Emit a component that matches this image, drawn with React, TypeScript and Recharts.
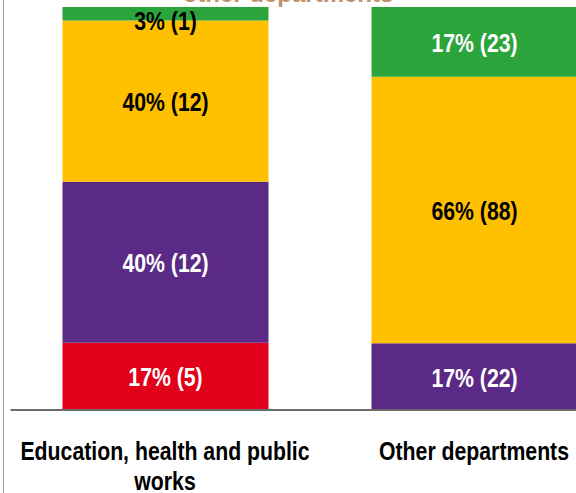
import { BarChart, Bar, XAxis, YAxis, LabelList } from "recharts";

const categories = ["Education, health and public works", "Other departments"];
const redCounts = [5, 0];
const purpleCounts = [12, 22];
const yellowCounts = [12, 88];
const greenCounts = [1, 23];
const titleTail = "other departments";

const series = [
    { key: "red", counts: redCounts, fill: "#e2001a", text: "#ffffff" },
    { key: "purple", counts: purpleCounts, fill: "#5b2a86", text: "#ffffff" },
    { key: "yellow", counts: yellowCounts, fill: "#ffc000", text: "#000000" },
    { key: "green", counts: greenCounts, fill: "#2ba43b", text: "#ffffff" },
];

const data = categories.map((name, i) => {
    const row: any = { name };
    series.forEach(s => { row[s.key] = s.counts[i]; });
    return row;
});

const totals = categories.map((_, i) => series.reduce((sum, s) => sum + s.counts[i], 0));

const FONT = "'Liberation Sans', Arial, sans-serif";
const SQUEEZE = 0.85;

// greedy word wrap by character count
const wrap = (str: string, maxChars: number) => {
    const lines: string[] = [];
    let cur = "";
    str.split(" ").forEach(w => {
        const next = cur ? cur + " " + w : w;
        if (next.length > maxChars && cur) {
            lines.push(cur);
            cur = w;
        } else {
            cur = next;
        }
    });
    if (cur) lines.push(cur);
    return lines;
};

const makeLabel = (s: typeof series[number]) => (props: any) => {
    const { x, y, width, height, index } = props;
    const count = s.counts[index];
    if (!count) return null;
    const pct = Math.round((count / totals[index]) * 100);
    const cx = Number(x) + Number(width) / 2;
    const cy = Number(y) + Number(height) / 2;
    const fits = Number(height) > 24;
    const baseline = Math.max(cy + 10, 30);
    return (
        <text
            transform={`translate(${cx} ${baseline}) scale(${SQUEEZE} 1)`}
            textAnchor="middle"
            fill={fits ? s.text : "#000000"}
            style={{ fontFamily: FONT, fontWeight: 700, fontSize: 25 }}
        >
            {`${pct}% (${count})`}
        </text>
    );
};

const CategoryTick = (props: any) => {
    const { x, y, payload } = props;
    const lines = wrap(payload.value, 28);
    return (
        <text
            transform={`translate(${x} ${y + 42}) scale(${SQUEEZE} 1)`}
            textAnchor="middle"
            fill="#000000"
            style={{ fontFamily: FONT, fontWeight: 700, fontSize: 25 }}
        >
            {lines.map((l, i) => (
                <tspan key={i} x={0} dy={i === 0 ? 0 : 30}>{l}</tspan>
            ))}
        </text>
    );
};

export default function App() {
    return (
        <div style={{ position: "fixed", left: 0, top: 0, width: 576, height: 493, overflow: "hidden", background: "#fff" }}>
            <div style={{ position: "absolute", left: 3, top: 0, width: 1, height: 493, background: "#9a9a9a" }} />
            <div
                style={{
                    position: "absolute",
                    left: 0,
                    width: 576,
                    top: -18,
                    textAlign: "center",
                    fontFamily: FONT,
                    fontWeight: 700,
                    fontSize: 24,
                    lineHeight: "24px",
                    color: "#c0906a",
                }}
            >
                {titleTail}
            </div>
            <BarChart
                width={640}
                height={493}
                data={data}
                stackOffset="expand"
                margin={{ top: 7, right: 11.5, bottom: 0, left: 10.5 }}
                style={{ position: "absolute", left: 0, top: 0 }}
            >
                <XAxis
                    dataKey="name"
                    height={83}
                    axisLine={{ stroke: "#6b6b6b", strokeWidth: 2 }}
                    tickLine={false}
                    interval={0}
                    tick={<CategoryTick />}
                />
                <YAxis hide domain={[0, 1]} />
                {series.map(s => (
                    <Bar key={s.key} dataKey={s.key} stackId="a" fill={s.fill} barSize={206} isAnimationActive={false}>
                        <LabelList dataKey={s.key} content={makeLabel(s)} />
                    </Bar>
                ))}
            </BarChart>
        </div>
    );
}
